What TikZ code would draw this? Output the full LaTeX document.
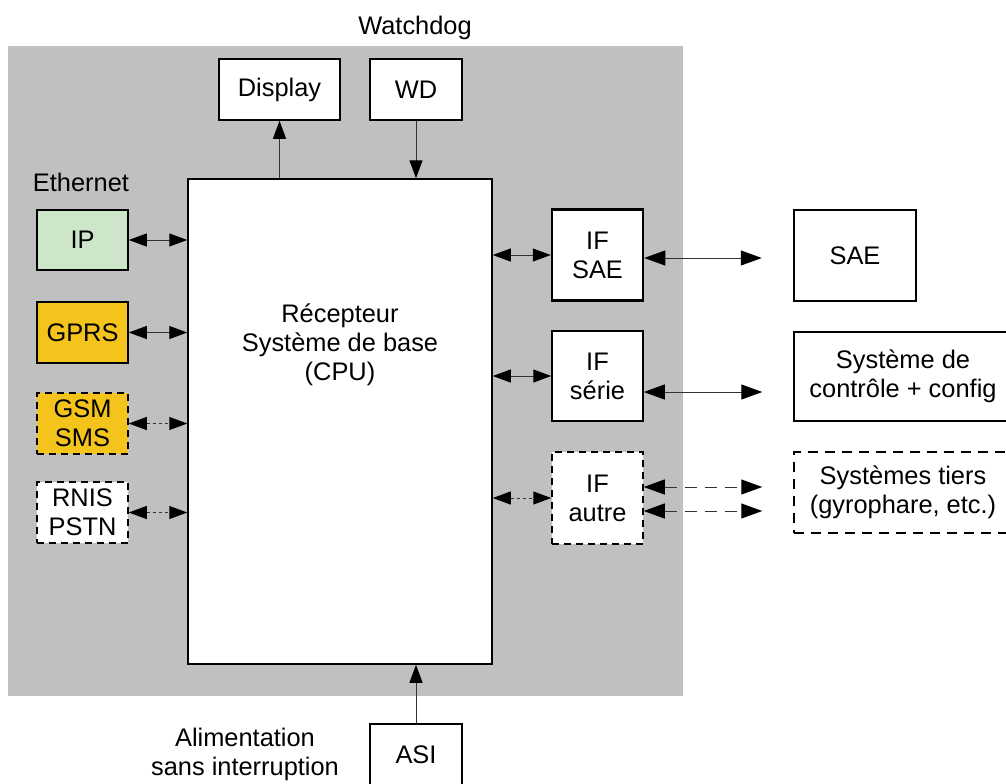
\documentclass[tikz,border=0pt]{standalone}
\usepackage{fontspec}
\setmainfont{Liberation Sans}
\usetikzlibrary{arrows.meta}
\definecolor{bggray}{HTML}{C0C0C0}
\definecolor{ipgreen}{HTML}{CDE5C9}
\definecolor{gprsyellow}{HTML}{F5C41C}
\definecolor{linegray}{HTML}{333333}
\begin{document}
\begin{tikzpicture}[x=0.5pt,y=-0.5pt,
  every node/.style={font=\fontsize{12.7}{14.5}\selectfont, align=center, inner sep=0pt},
  box/.style={draw=black, line width=0.75pt, fill=white, rectangle},
  thickbox/.style={box, line width=1.25pt},
  dashbox/.style={box, dash pattern=on 3.5pt off 2.5pt},
  longdashbox/.style={box, dash pattern=on 5pt off 3.5pt},
  conn/.style={draw=linegray, line width=0.5pt},
  arr/.style={conn, -{Triangle[length=9pt,width=6.5pt,color=black]}},
  darr/.style={conn, {Triangle[length=9pt,width=6.5pt,color=black]}-{Triangle[length=9pt,width=6.5pt,color=black]}},
  dotarr/.style={darr, dash pattern=on 1.5pt off 1.5pt},
  bigarr/.style={conn, {Triangle[length=10.5pt,width=7.5pt,color=black]}-{Triangle[length=10.5pt,width=7.5pt,color=black]}},
  bigdasharr/.style={bigarr, dash pattern=on 6pt off 4pt}
]
\clip (0,0) rectangle (1006,783);
\fill[white] (0,0) rectangle (1006,783);
\fill[bggray] (8,46) rectangle (683,696);

\node (watchdog) at (415,28) {Watchdog};
\node (ethernet) at (81,182) {Ethernet};
\node (alim) at (245,754) {Alimentation\\sans interruption};

\node[box, minimum width=60.5pt, minimum height=30.5pt] (display) at (279.5,89.5) {Display};
\node[box, minimum width=46pt, minimum height=30.5pt] (wd) at (416,89.5) {WD};
\node[box, minimum width=152pt, minimum height=242.5pt] (cpu) at (340,421.5) {};
\node (cpulabel) at (340,345) {Récepteur\\Système de base\\(CPU)};

\node[box, fill=ipgreen, minimum width=45.5pt, minimum height=30pt] (ip) at (82.5,240) {IP};
\node[box, fill=gprsyellow, minimum width=45.5pt, minimum height=30.5pt] (gprs) at (82.5,332.5) {GPRS};
\node[dashbox, fill=gprsyellow, minimum width=45.5pt, minimum height=30.5pt] (gsm) at (82.5,423.5) {GSM\\SMS};
\node[dashbox, minimum width=45.5pt, minimum height=30.5pt] (rnis) at (82.5,512.5) {RNIS\\PSTN};

\node[thickbox, minimum width=45.5pt, minimum height=45.5pt] (ifsae) at (597.5,255) {IF\\SAE};
\node[box, minimum width=45.5pt, minimum height=45pt] (ifserie) at (597.5,376) {IF\\série};
\node[dashbox, minimum width=45.5pt, minimum height=46pt] (ifautre) at (597.5,498) {IF\\autre};

\node[thickbox, minimum width=61pt, minimum height=45.5pt] (sae) at (855,255.5) {SAE};
\node[box, minimum width=109pt, minimum height=44.5pt] (ctrl) at (903,376.5) {Système de\\contrôle + config};
\node[longdashbox, minimum width=109pt, minimum height=40.5pt] (tiers) at (903,492.5) {Systèmes tiers\\(gyrophare, etc.)};

\node[box, minimum width=46pt, minimum height=31pt] (asi) at (416,755) {ASI};

% vertical connectors
\draw[arr] (cpu.north -| display.south) -- (display.south);
\draw[arr] (wd.south) -- (wd.south |- cpu.north);
\draw[arr] (asi.north) -- (asi.north |- cpu.south);

% left connectors
\draw[darr] (ip.east) -- (ip.east -| cpu.west);
\draw[darr] (gprs.east) -- (gprs.east -| cpu.west);
\draw[dotarr] (gsm.east) -- (gsm.east -| cpu.west);
\draw[dotarr] (rnis.east) -- (rnis.east -| cpu.west);

% CPU to interfaces
\draw[darr] (cpu.east |- ifsae.west) -- (ifsae.west);
\draw[darr] (cpu.east |- ifserie.west) -- (ifserie.west);
\draw[dotarr] (cpu.east |- ifautre.west) -- (ifautre.west);

% interfaces to external systems
\draw[bigarr] ([yshift=-1.5pt]ifsae.east) -- ([yshift=-1.5pt,xshift=-15.5pt]ifsae.east -| sae.west);
\draw[bigarr] ([yshift=-8pt]ifserie.east) -- ([yshift=-8pt,xshift=-15.5pt]ifserie.east -| ctrl.west);
\draw[bigdasharr] ([yshift=5.5pt]ifautre.east) -- ([yshift=5.5pt,xshift=-15.5pt]ifautre.east -| tiers.west);
\draw[bigdasharr] ([yshift=-6.5pt]ifautre.east) -- ([yshift=-6.5pt,xshift=-15.5pt]ifautre.east -| tiers.west);
\end{tikzpicture}
\end{document}
